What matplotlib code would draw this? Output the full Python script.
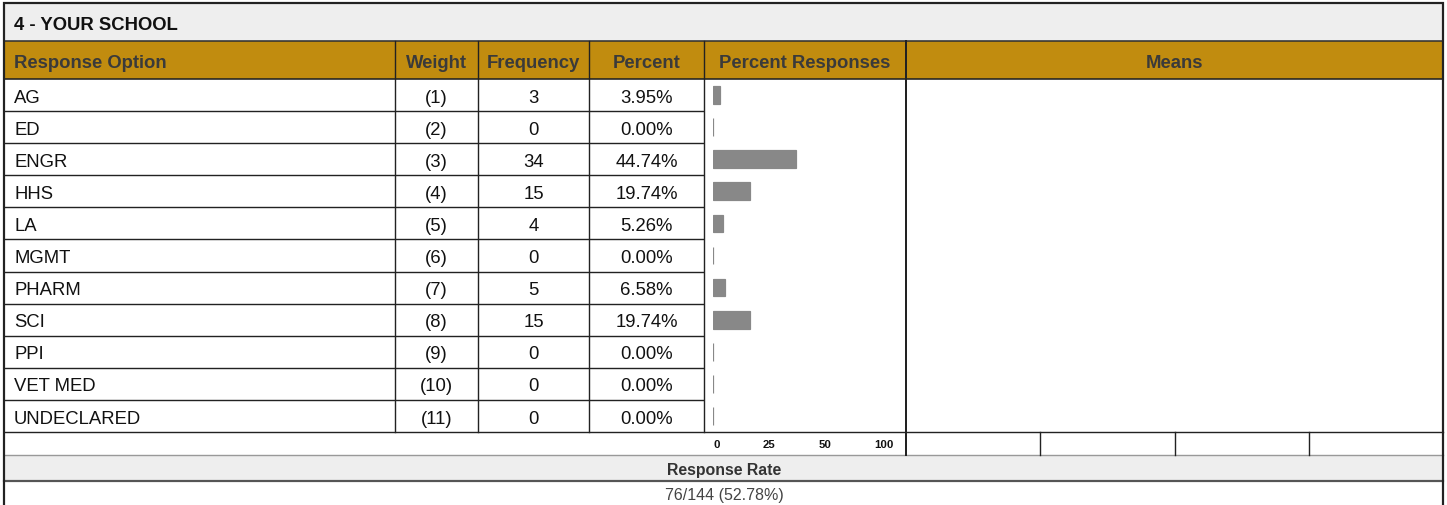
import matplotlib
matplotlib.use('Agg')
import matplotlib.pyplot as plt
from matplotlib.patches import Rectangle

plt.rcParams['font.family'] = ['Liberation Sans', 'DejaVu Sans']

# data
title = '4 - YOUR SCHOOL'
headers = ['Response Option', 'Weight', 'Frequency', 'Percent', 'Percent Responses', 'Means']
options = ['AG', 'ED', 'ENGR', 'HHS', 'LA', 'MGMT', 'PHARM', 'SCI', 'PPI', 'VET MED', 'UNDECLARED']
weights = [1, 2, 3, 4, 5, 6, 7, 8, 9, 10, 11]
freqs = [3, 0, 34, 15, 4, 0, 5, 15, 0, 0, 0]
percents = [3.95, 0.00, 44.74, 19.74, 5.26, 0.00, 6.58, 19.74, 0.00, 0.00, 0.00]
tick_labels = ['0', '25', '50', '100']
responded = 76
total = 144
rate = 52.78

W, H = 1447, 506
fig = plt.figure(figsize=(W / 100, H / 100), dpi=100)
ax = fig.add_axes([0, 0, 1, 1])
ax.set_xlim(0, W)
ax.set_ylim(H, 0)
ax.axis('off')

PX = 0.72  # 1 px in points
cols = [4, 395, 478, 589, 704, 906, 1443]
top_title, top_head, top_rows, bot_rows = 4, 42, 80, 433
bot_ticks, bot_rate = 456, 482
n = len(options)
rh = (bot_rows - top_rows) / n
gold = '#C18C0F'
band = '#EEEEEE'
dark = '#222222'

# bands
ax.add_patch(Rectangle((cols[0], top_title), cols[-1] - cols[0], top_head - top_title, fc=band, ec='none'))
ax.add_patch(Rectangle((cols[0], top_head), cols[-1] - cols[0], top_rows - top_head, fc=gold, ec='none'))
ax.add_patch(Rectangle((cols[0], bot_ticks), cols[-1] - cols[0], bot_rate - bot_ticks, fc=band, ec='none'))

# title
ax.text(14, 23 + 6.6, title, fontsize=13.3, fontweight='bold', color='#111111', va='baseline')

# header text
hy = (top_head + top_rows) / 2 + 6.6
ax.text(14, hy, headers[0], fontsize=13.3, fontweight='bold', color='#3A3A3A', va='baseline')
for i in range(1, 6):
    ax.text((cols[i] + cols[i + 1]) / 2, hy, headers[i], fontsize=13.3, fontweight='bold',
            color='#3A3A3A', ha='center', va='baseline')

# rows
for r in range(n):
    cy = top_rows + (r + 0.5) * rh + 6.6
    ax.text(14, cy, options[r], fontsize=13.3, color='#111111', va='baseline')
    ax.text((cols[1] + cols[2]) / 2, cy, '(%d)' % weights[r], fontsize=13.3, color='#111111',
            ha='center', va='baseline')
    ax.text((cols[2] + cols[3]) / 2, cy, str(freqs[r]), fontsize=13.3, color='#111111',
            ha='center', va='baseline')
    ax.text((cols[3] + cols[4]) / 2, cy, '%.2f%%' % percents[r], fontsize=13.3, color='#111111',
            ha='center', va='baseline')
    if r > 0:
        y = top_rows + r * rh
        ax.plot([cols[0], cols[4]], [y, y], color=dark, lw=1.4 * PX, solid_capstyle='butt')

# grid lines
ax.plot([cols[0], cols[-1]], [top_head, top_head], color='#333333', lw=1.6 * PX)
ax.plot([cols[0], cols[-1]], [top_rows, top_rows], color=dark, lw=1.6 * PX)
ax.plot([cols[0], cols[-1]], [bot_rows, bot_rows], color=dark, lw=1.4 * PX)
ax.plot([cols[0], cols[-1]], [bot_ticks, bot_ticks], color='#999999', lw=1.4 * PX)
ax.plot([cols[0], cols[-1]], [bot_rate, bot_rate], color='#555555', lw=2.2 * PX)
for c in cols[1:5]:
    ax.plot([c, c], [top_head, bot_rows], color=dark, lw=1.4 * PX)
ax.plot([cols[5], cols[5]], [top_head, bot_ticks], color=dark, lw=2 * PX)
means_w = (cols[6] - cols[5]) / 4
for k in range(1, 4):
    x = cols[5] + k * means_w
    ax.plot([x, x], [bot_rows, bot_ticks], color=dark, lw=1.4 * PX)

# outer border
ax.plot([cols[0], cols[0], cols[-1], cols[-1]], [H + 10, top_title, top_title, H + 10],
        color='#222222', lw=2.2 * PX, solid_joinstyle='miter')

# tick labels row
tick_x = [717, 769, 825, 884]
for x, t in zip(tick_x, tick_labels):
    ax.text(x, (bot_rows + bot_ticks) / 2 + 4, t, fontsize=8.2, fontweight='bold',
            color='#111111', ha='center', va='baseline')

# response rate
ax.text((cols[0] + cols[-1]) / 2 + 1, (bot_ticks + bot_rate) / 2 + 5.6, 'Response Rate',
        fontsize=11.4, fontweight='bold', color='#333333', ha='center', va='baseline')
ax.text((cols[0] + cols[-1]) / 2 + 1, 494 + 5.8, '%d/%d (%.2f%%)' % (responded, total, rate),
        fontsize=11.5, color='#444444', ha='center', va='baseline')

# bars
x0, x100 = 713, 898
bax = fig.add_axes([x0 / W, 1 - bot_rows / H, (x100 - x0) / W, (bot_rows - top_rows) / H])
bax.barh(range(n), percents, height=0.55, color='#888888', edgecolor='#888888', linewidth=1.2 * PX)
bax.set_xlim(0, 100)
bax.set_ylim(n - 0.5, -0.5)
bax.axis('off')
bax.patch.set_alpha(0)

fig.savefig('out.png', dpi=100)
